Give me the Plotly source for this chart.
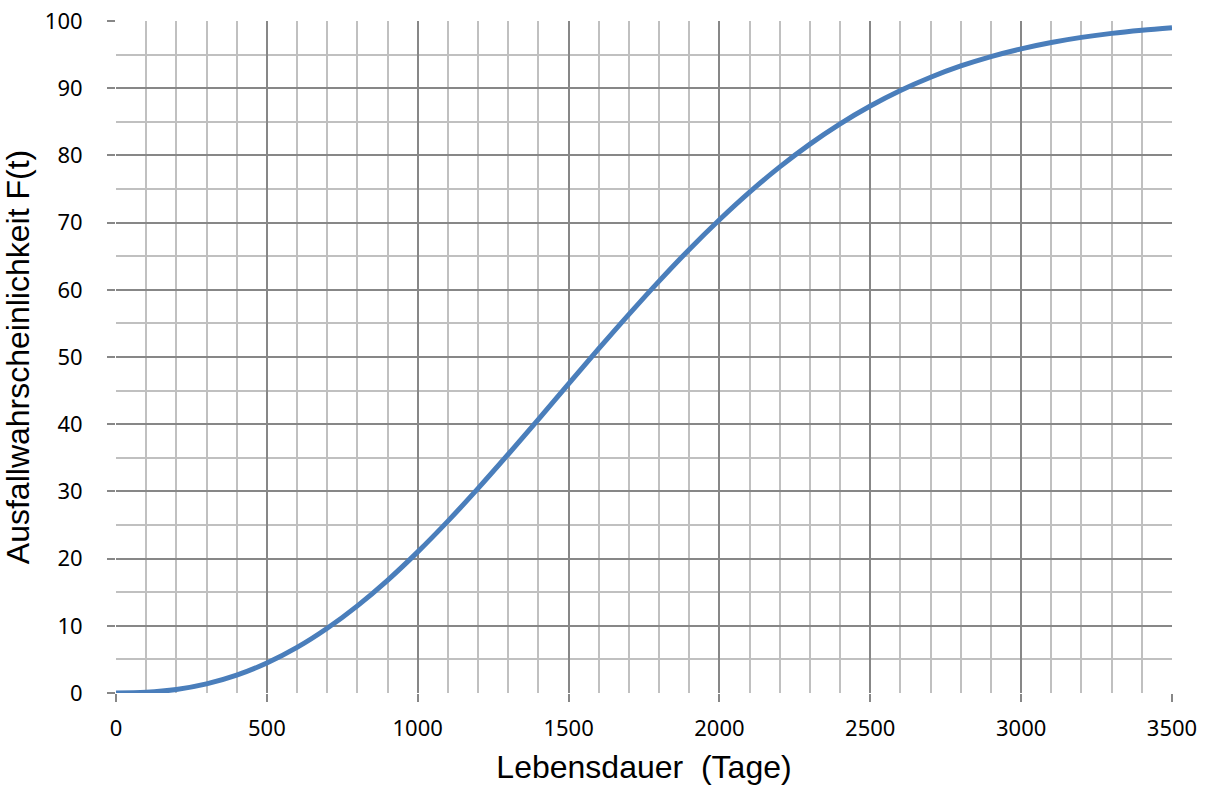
import plotly.graph_objects as go

# Lifetime in days and failure probability in percent
tage = [0, 100, 200, 300, 400, 500, 600, 700, 800, 900, 1000,
        1100, 1200, 1300, 1400, 1500, 1600, 1700, 1800, 1900, 2000,
        2100, 2200, 2300, 2400, 2500, 2600, 2700, 2800, 2900, 3000,
        3100, 3200, 3300, 3400, 3500]
ausfall = [0.0, 0.10, 0.52, 1.35, 2.65, 4.46, 6.78, 9.63, 12.97, 16.77, 21.0,
           25.58, 30.45, 35.53, 40.73, 46.0, 51.23, 56.34, 61.29, 66.01, 70.43,
           74.54, 78.29, 81.68, 84.70, 87.35, 89.66, 91.63, 93.31, 94.71, 95.86,
           96.80, 97.56, 98.16, 98.62, 98.99]

x_title = "Lebensdauer  (Tage)"
y_title = "Ausfallwahrscheinlichkeit F(t)"

fig = go.Figure()
fig.add_trace(go.Scatter(x=tage, y=ausfall, mode="lines",
                         line=dict(color="#4a7ebb", width=5, shape="spline"),
                         showlegend=False, hoverinfo="skip", cliponaxis=False))

tick_font = dict(family="Noto Sans, Open Sans, sans-serif", size=22, color="#000000")
title_font = dict(family="Liberation Sans, Arial, sans-serif", size=32, color="#000000")

fig.update_layout(
    width=1210, height=791,
    margin=dict(l=116, r=38, t=21, b=98, autoexpand=False),
    paper_bgcolor="white", plot_bgcolor="white",
    xaxis=dict(range=[0, 3500], dtick=500, tick0=0, automargin=False,
               showgrid=True, gridcolor="#878787", gridwidth=2,
               minor=dict(dtick=100, showgrid=True, gridcolor="#c0c0c0", gridwidth=2),
               ticks="outside", ticklen=8, tickcolor="#878787", tickwidth=2,
               ticklabelstandoff=8,
               zeroline=False, showline=False,
               tickfont=tick_font, title=dict(text=x_title, font=title_font, standoff=14)),
    yaxis=dict(range=[0, 100], dtick=10, tick0=0, automargin=False,
               showgrid=True, gridcolor="#878787", gridwidth=2,
               minor=dict(dtick=5, showgrid=True, gridcolor="#c0c0c0", gridwidth=2),
               ticks="outside", ticklen=8, tickcolor="#878787", tickwidth=2,
               ticklabelstandoff=20,
               zeroline=False, showline=False,
               tickfont=tick_font, title=dict(text=y_title, font=title_font, standoff=10)),
)

fig.write_html("out.html")
